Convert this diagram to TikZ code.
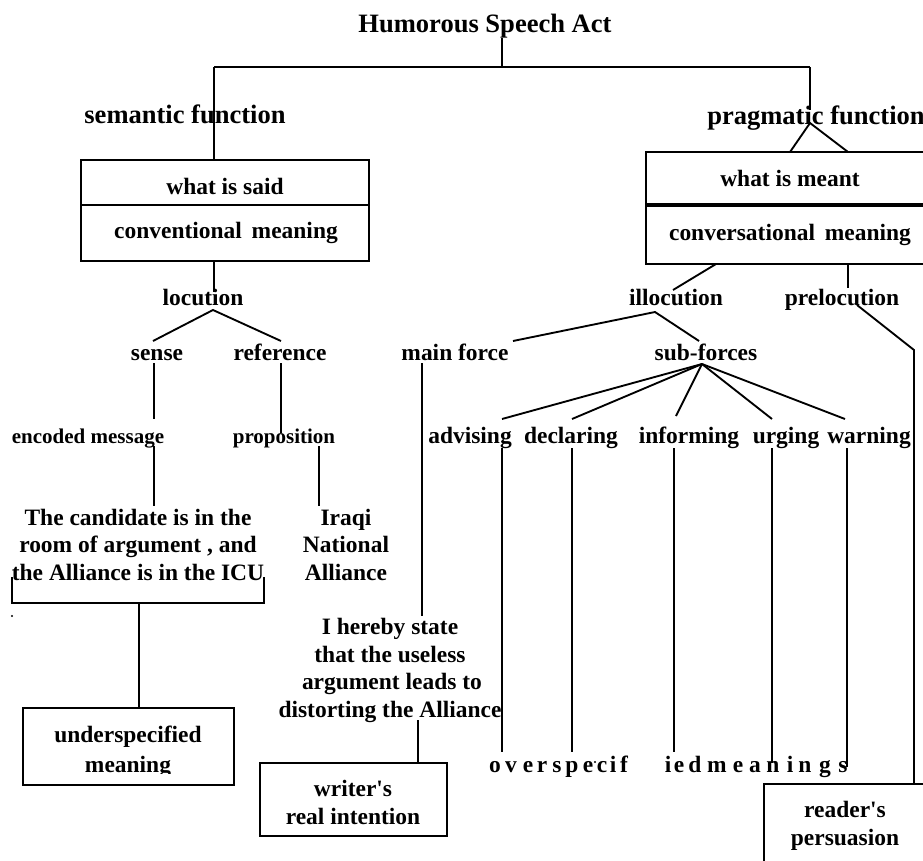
\documentclass[tikz,border=0pt]{standalone}
\usepackage{fontspec}
\setmainfont{Liberation Serif}[Ligatures=TeXOff]
\begin{document}
\begin{tikzpicture}[x=0.75pt,y=-0.75pt,
  line width=1.4pt,
  lbl/.style={font=\fontsize{17.6}{20.6}\selectfont\bfseries, inner sep=0pt, anchor=base},
  big/.style={font=\fontsize{19.9}{24}\selectfont\bfseries, inner sep=0pt, anchor=base},
  sml/.style={font=\fontsize{15.75}{19}\selectfont\bfseries, inner sep=0pt, anchor=base},
  ml/.style={lbl, align=center},
  boxnode/.style={draw, line width=1.4pt, inner sep=0pt, outer sep=0pt, anchor=north west},
]
\useasboundingbox (0,0) rectangle (923,860);
\clip (0,0) rectangle (923,860);

% ---------- title and top bar ----------
\node[big] (title) at (485,32) {Humorous Speech Act};
\coordinate (titleS) at (502,38);
\coordinate (barM) at (502,67);
\coordinate (barL) at (214,67);
\coordinate (barR) at (810,67);
\draw (titleS) -- (barM);
\draw (barL) -- (barR);

\node[big] (sem) at (185,123) {semantic function};
\node[big] (prag) at (816,124) {pragmatic function};

% ---------- left boxes ----------
\node[boxnode, minimum width=216pt, minimum height=33.75pt] (saidbox) at (81,160) {};
\node[boxnode, minimum width=216pt, minimum height=42pt] (convbox) at (81,205) {};
\node[lbl] (said) at (225,194) {what is said};
\node[lbl] (conv) at (226,238) {conventional \,meaning};
\coordinate (saidTop) at (214,160);
\draw (barL) -- (saidTop);

% ---------- right boxes ----------
\node[boxnode, minimum width=216pt, minimum height=39.75pt] (meantbox) at (646,152) {};
\node[boxnode, minimum width=216pt, minimum height=44.25pt] (conversbox) at (646,205) {};
\draw[line width=2.6pt] (conversbox.north west) -- (conversbox.north east);
\node[lbl] (meant) at (790,186) {what is meant};
\node[lbl] (convers) at (790,240) {conversational \,meaning};
\coordinate (pragTop) at (810,110);
\coordinate (pragHub) at (810,123);
\coordinate (meantA) at (790,152);
\coordinate (meantB) at (848,152);
\draw (barR) -- (pragTop);
\draw (meantA) -- (pragHub) -- (meantB);

% ---------- locution branch ----------
\coordinate (convBot) at (214,261);
\coordinate (locTop) at (214,292);
\draw (convBot) -- (locTop);
\node[lbl] (locution) at (203,305) {locution};
\coordinate (locHub) at (213,310);
\coordinate (senseTop) at (153,341);
\coordinate (refTop) at (281,341);
\draw (senseTop) -- (locHub) -- (refTop);
\node[lbl] (sense) at (157,360) {sense};
\node[lbl] (reference) at (280,360) {reference};
\coordinate (senseS) at (154,363);
\coordinate (encN) at (154,419);
\coordinate (refS) at (281,363);
\coordinate (propN) at (281,433);
\draw (senseS) -- (encN);
\draw (refS) -- (propN);
\node[sml] (encoded) at (88,443) {encoded message};
\node[sml] (proposition) at (284,443) {proposition};
\coordinate (encS) at (154,446);
\coordinate (candN) at (154,506);
\coordinate (propS) at (319,446);
\coordinate (iraqN) at (319,506);
\draw (encS) -- (candN);
\draw (propS) -- (iraqN);
\node[ml] (cand) at (138,580) {The candidate is in the\\ room of argument , and\\the Alliance is in the ICU};
\node[ml] (iraqi) at (346,580) {Iraqi\\National\\Alliance};

\coordinate (brL) at (12,577);
\coordinate (brLB) at (12,603);
\coordinate (brRB) at (264,603);
\coordinate (brR) at (264,577);
\coordinate (brM) at (139,603);
\draw (brL) -- (brLB) -- (brRB) -- (brR);
\node[boxnode, minimum width=158.25pt, minimum height=57.75pt] (underbox) at (23,708) {};
\coordinate (underTop) at (139,708);
\draw (brM) -- (underTop);
\fill (12,616) circle (0.8pt);
\begin{scope}
  \clip (23,708) rectangle (234,773);
  \node[lbl, align=center, font=\fontsize{17.6}{22.5}\selectfont\bfseries] (under) at (128,772) {underspecified\\meaning};
\end{scope}

% ---------- illocution / prelocution ----------
\coordinate (conversBotA) at (716,264);
\coordinate (illTop) at (673,290);
\draw (conversBotA) -- (illTop);
\node[lbl] (illocution) at (676,305) {illocution};
\coordinate (conversBotB) at (848,264);
\coordinate (preTop) at (848,288);
\draw (conversBotB) -- (preTop);
\node[lbl] (prelocution) at (842,305) {prelocution};
\coordinate (preS) at (857,305);
\coordinate (preBend) at (914,350);
\coordinate (readerTop) at (914,784);
\draw (preS) -- (preBend) -- (readerTop);
\node[boxnode, minimum width=124.5pt, minimum height=75pt] (readerbox) at (764,784) {};
\node[lbl, align=center, font=\fontsize{17.6}{21}\selectfont\bfseries] (reader) at (845,845) {reader's\\persuasion};

\coordinate (illHub) at (655,312);
\coordinate (mainTop) at (513,341);
\coordinate (subTop) at (699,341);
\draw (mainTop) -- (illHub) -- (subTop);
\node[lbl] (mainforce) at (455,360) {main force};
\node[lbl] (subforces) at (706,360) {sub-forces};

\coordinate (mainS) at (422,363);
\coordinate (herebyN) at (422,616);
\draw (mainS) -- (herebyN);
\node[ml] (hereby) at (390,717) {I hereby state\\that the useless\\ \,argument leads to\\distorting the Alliance};
\coordinate (herebyS) at (418,720);
\coordinate (writerTop) at (418,763);
\draw (herebyS) -- (writerTop);
\node[boxnode, minimum width=140.25pt, minimum height=54.75pt] (writerbox) at (260,763) {};
\node[lbl, align=center] (writer) at (353,824) {writer's\\real intention};

% sub-forces fan
\coordinate (subHub) at (702,364);
\coordinate (advT) at (502,419);
\coordinate (decT) at (572,419);
\coordinate (infT) at (676,416);
\coordinate (urgT) at (772,419);
\coordinate (warT) at (845,419);
\foreach \t in {advT,decT,infT,urgT,warT} \draw (subHub) -- (\t);
\node[lbl] (advising) at (470,443) {advising};
\node[lbl] (declaring) at (571,443) {declaring};
\node[lbl] (informing) at (689,443) {informing};
\node[lbl] (urging) at (786,443) {urging};
\node[lbl] (warning) at (869,443) {warning};

\coordinate (advS) at (502,448);  \coordinate (advE) at (502,752);
\coordinate (decS) at (572,448);  \coordinate (decE) at (572,752);
\coordinate (infS) at (674,448);  \coordinate (infE) at (674,752);
\coordinate (urgS) at (772,448);  \coordinate (urgE) at (772,763);
\coordinate (warS) at (847,448);  \coordinate (warE) at (847,767);
\draw (advS) -- (advE);
\draw (decS) -- (decE);
\draw (infS) -- (infE);
\draw (urgS) -- (urgE);
\draw (warS) -- (warE);

% letter-spaced "overspecified meanings"
\foreach \ch/\xx [count=\i] in {o/495,v/511,e/528,r/542,s/557,p/572,e/588,c/602,i/613,f/624,i/668,e/679,d/695,m/717,e/738,a/755,n/773,i/790,n/805,g/825,s/843}
  \node[lbl, name=ov\i] at (\xx,772) {\ch};
\fill (595,762) circle (0.8pt);

\end{tikzpicture}
\end{document}
